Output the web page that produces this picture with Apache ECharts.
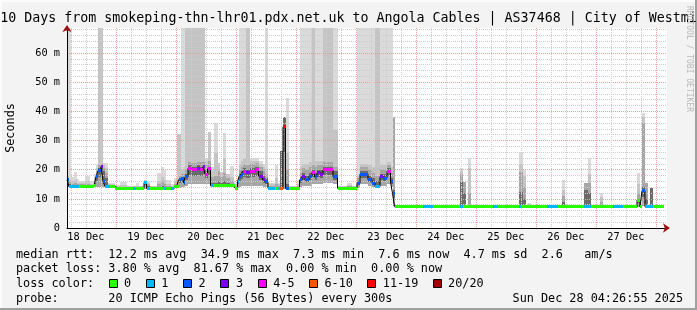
<!DOCTYPE html>
<html>
<head>
<meta charset="utf-8">
<script src="https://cdn.jsdelivr.net/npm/echarts@6.0.0/dist/echarts.min.js"></script>
<style>
html,body{margin:0;padding:0;background:#f3f3f3;}
#chart{width:697px;height:310px;}
</style>
</head>
<body>
<div id="chart"></div>
<script>
// ---- DATA (time = hours since 18 Dec 00:00; each value holds until the next start) ----
const segStart = [
  4.45, 5.25, 5.85, 7.05, 8.45, 9.25, 11.65, 13.65, 15.25, 16.05, 16.85, 18.05, 18.85, 19.65, 20.85, 21.65, 23.45,
  25.65, 28.45, 30.85, 32.05, 33.25, 35.25, 36.25, 37.65, 40.45, 42.05, 43.25, 44.05, 46.05, 47.25,
  48.25, 49.05, 50.05, 51.05, 51.65, 52.85, 54.45, 56.45, 57.65, 58.85, 59.65, 60.65, 61.85, 63.05, 64.85, 65.45, 66.85, 67.85, 69.65, 71.05, 71.65,
  72.65, 73.25, 74.05, 74.85, 75.85, 77.45, 79.65, 81.05, 82.65, 83.65, 84.85, 87.65, 88.85, 89.65, 90.85, 91.85, 93.05,
  96.45, 97.45, 98.45, 99.65, 101.25, 102.45, 103.45, 104.45, 105.65, 106.85, 108.85, 110.85, 112.65, 116.45, 118.45,
  120.45, 121.65, 124.85, 126.45, 127.65, 129.65, 130.85, 132.45, 133.85, 134.65, 135.45,
  146.85, 150.85, 161.45, 162.85, 163.85, 164.85, 165.85, 174.85, 176.85, 185.25, 186.05, 186.85, 187.85, 188.85, 189.85, 196.45, 200.85, 202.45, 203.65, 211.05, 212.85, 213.85, 217.65, 218.85, 222.85, 226.85, 232.45, 233.65, 234.45, 235.65, 236.85, 237.65, 238.85
];
const segEnd = 243.05;
const median = [
  16.5, 14.2, 14.2, 14.2, 14.2, 14.2, 14.2, 14.2, 14.5, 17.6, 19.6, 21.0, 16.1, 14.2, 14.2, 14.2, 13.6,
  13.6, 13.6, 13.6, 13.6, 13.6, 15.5, 13.6, 13.6, 13.6, 13.6, 13.6, 13.6, 13.6, 14.2,
  14.2, 16.5, 17.0, 15.5, 17.5, 20.5, 19.9, 20.5, 20.0, 21.0, 18.5, 20.3, 14.5, 14.5, 14.5, 14.5, 14.5, 14.5, 14.5, 14.5, 13.7,
  15.9, 17.6, 18.5, 19.5, 19.0, 19.5, 20.0, 17.8, 16.5, 15.8, 13.6, 13.6, 13.6, 13.6, 34.7, 13.6, 13.6,
  13.7, 16.5, 17.8, 16.5, 17.8, 19.2, 17.5, 19.0, 18.5, 19.9, 20.0, 17.6, 13.6, 13.6, 13.6,
  15.4, 18.5, 16.5, 15.4, 14.2, 17.6, 17.1, 19.5, 15.8, 11.9, 7.3,
  7.5, 7.3, 7.3, 7.3, 7.3, 7.3, 7.3, 7.3, 7.3, 7.3, 7.3, 7.3, 7.3, 7.3, 7.3, 7.3, 7.3, 7.3, 7.3, 7.3, 7.3, 7.3, 7.3, 7.3, 7.3, 7.3, 9.6, 7.3, 12.8, 7.3, 7.3, 7.3, 7.3
];
const lossIdx = [
  2,1,1,1,1,0,0,0,0,2,2,3,2,1,1,0,0,
  0,0,1,0,0,1,1,0,0,0,1,0,1,0,
  0,2,2,2,2,4,4,3,4,3,4,4,1,0,0,0,0,0,0,0,0,
  1,2,2,4,3,4,4,3,3,2,1,0,1,5,6,2,0,
  0,2,3,2,2,4,2,3,3,4,4,2,0,0,0,
  2,2,2,2,1,3,2,4,2,2,0,
  1,0,1,0,0,0,0,1,0,1,0,0,0,0,0,1,0,0,0,1,1,0,0,0,1,0,0,0,2,1,1,1,0
];
const smokeMin = [
  14.0, 13.8, 13.8, 13.8, 13.8, 13.8, 13.8, 13.8, 13.9, 14.0, 14.0, 14.0, 14.0, 13.8, 13.8, 13.8, 13.3,
  13.3, 13.3, 13.3, 13.3, 13.3, 13.3, 13.3, 13.3, 13.3, 13.3, 13.3, 13.3, 13.3, 13.8,
  13.8, 13.8, 14.0, 14.0, 14.5, 15.0, 15.0, 15.0, 15.0, 15.0, 15.0, 15.0, 14.0, 14.0, 14.0, 14.0, 14.0, 14.0, 14.0, 14.0, 13.5,
  13.7, 14.0, 14.5, 14.5, 14.5, 14.5, 14.5, 14.5, 14.2, 14.0, 13.3, 13.3, 13.3, 13.3, 13.5, 13.3, 13.3,
  13.4, 14.0, 14.5, 14.5, 14.5, 15.0, 15.0, 15.0, 15.0, 15.5, 15.5, 15.0, 13.3, 13.3, 13.3,
  13.8, 15.0, 14.5, 14.2, 13.8, 14.5, 14.5, 15.0, 14.0, 7.5, 7.1,
  7.2, 7.1, 7.1, 7.1, 7.1, 7.1, 7.1, 7.1, 7.1, 7.1, 7.1, 7.1, 7.1, 7.1, 7.1, 7.1, 7.1, 7.1, 7.1, 7.1, 7.1, 7.1, 7.1, 7.1, 7.1, 7.1, 7.1, 7.1, 7.5, 7.1, 7.1, 7.1, 7.1
];
const smokeDark = [
  16.8, 15.0, 14.7, 14.7, 14.6, 14.6, 14.6, 14.5, 15.5, 18.0, 20.5, 21.3, 19.5, 17.0, 14.5, 14.5, 13.9,
  13.9, 13.9, 13.9, 13.9, 13.9, 15.9, 14.5, 13.9, 14.2, 14.5, 14.2, 13.9, 13.9, 14.6,
  14.8, 17.0, 17.5, 17.0, 18.5, 21.5, 21.0, 21.5, 21.0, 21.5, 20.0, 21.0, 15.5, 15.5, 16.0, 15.5, 16.0, 15.5, 15.0, 14.8, 14.0,
  16.2, 18.5, 19.5, 20.5, 20.0, 20.5, 21.0, 19.5, 18.0, 17.0, 14.0, 14.0, 14.0, 26.4, 38.2, 15.0, 13.9,
  14.0, 17.5, 19.0, 18.0, 19.0, 20.0, 19.0, 20.0, 20.0, 21.0, 21.0, 19.5, 13.9, 14.0, 13.9,
  16.0, 19.5, 18.0, 17.0, 16.0, 18.5, 18.5, 20.5, 17.0, 13.0, 7.5,
  7.6, 7.5, 15.9, 12.0, 7.5, 8.0, 7.5, 7.5, 7.5, 12.4, 12.4, 10.0, 7.5, 7.5, 7.5, 7.5, 7.5, 9.0, 7.5, 13.0, 12.0, 7.5, 8.0, 7.5, 7.5, 7.5, 10.0, 7.5, 14.0, 10.0, 7.5, 13.6, 7.5
];
const smokeMid = [
  17.3, 15.8, 15.2, 15.3, 15.0, 15.0, 15.2, 14.8, 16.5, 19.5, 21.5, 22.0, 20.5, 19.0, 14.8, 14.8, 14.2,
  14.2, 14.1, 14.1, 14.2, 14.1, 16.1, 15.2, 14.1, 15.0, 16.0, 15.0, 14.3, 14.1, 15.0,
  16.0, 18.0, 18.5, 18.5, 20.0, 22.5, 22.3, 22.5, 22.5, 22.5, 21.5, 23.0, 17.5, 18.0, 19.5, 17.5, 19.0, 17.0, 16.0, 15.2, 14.5,
  16.8, 20.0, 21.0, 22.0, 21.5, 22.0, 22.3, 21.0, 19.5, 18.5, 14.5, 15.0, 14.5, 26.4, 38.2, 20.0, 14.1,
  14.5, 19.0, 20.5, 20.0, 21.0, 21.5, 21.0, 21.5, 21.5, 22.5, 22.5, 21.0, 14.1, 14.4, 14.1,
  17.0, 21.0, 20.0, 19.0, 18.0, 20.0, 20.0, 21.5, 19.0, 38.2, 7.6,
  7.7, 7.6, 18.5, 15.9, 7.6, 12.0, 7.6, 7.6, 7.6, 19.3, 19.3, 14.0, 7.6, 7.8, 7.6, 7.6, 7.6, 11.0, 7.6, 15.3, 15.5, 7.6, 9.0, 7.6, 7.6, 7.6, 12.0, 7.6, 36.0, 15.3, 7.6, 13.6, 7.6
];
const smokeLight = [
  17.8, 16.5, 16.0, 16.5, 15.5, 15.3, 16.0, 15.2, 17.5, 20.5, 68.6, 68.6, 21.5, 20.5, 15.2, 15.2, 14.4,
  14.8, 14.3, 14.3, 14.5, 14.3, 16.3, 15.6, 14.3, 16.2, 17.6, 16.5, 15.0, 14.5, 16.0,
  32.2, 32.2, 20.0, 21.0, 68.6, 68.6, 68.6, 68.6, 68.6, 68.6, 23.0, 33.0, 19.5, 25.7, 22.2, 19.2, 24.0, 18.6, 17.5, 15.5, 15.0,
  17.5, 22.0, 23.0, 23.5, 68.6, 23.0, 23.0, 22.0, 21.0, 20.0, 15.0, 17.0, 15.0, 26.4, 38.2, 25.7, 14.3,
  15.0, 21.0, 22.0, 22.0, 22.5, 68.6, 23.0, 23.0, 23.0, 68.6, 68.6, 33.6, 14.3, 14.8, 14.3,
  18.0, 22.0, 21.5, 21.0, 68.6, 21.5, 21.5, 22.5, 21.0, 38.2, 7.7,
  7.8, 7.7, 19.5, 15.9, 7.7, 20.5, 7.7, 7.7, 7.7, 22.0, 22.0, 18.0, 7.7, 8.2, 7.7, 7.7, 7.7, 13.0, 7.7, 15.3, 18.5, 7.7, 10.5, 7.7, 7.7, 7.7, 15.0, 7.7, 38.0, 15.3, 7.7, 13.6, 7.7
];
const smokeMax = [
  68.6, 68.6, 17.5, 19.2, 16.8, 16.0, 17.8, 16.0, 18.5, 21.5, 68.6, 68.6, 22.4, 22.4, 15.6, 15.6, 14.6,
  15.9, 14.5, 14.5, 15.3, 14.5, 16.5, 16.0, 14.5, 18.7, 21.0, 19.9, 16.5, 15.0, 17.0,
  32.2, 32.2, 68.6, 68.6, 68.6, 68.6, 68.6, 68.6, 68.6, 68.6, 24.0, 33.0, 21.0, 35.9, 22.2, 19.2, 32.7, 18.6, 21.2, 16.0, 15.5,
  18.0, 68.6, 68.6, 68.6, 68.6, 24.0, 24.0, 23.0, 22.0, 68.6, 15.5, 21.6, 15.5, 26.4, 38.2, 44.7, 14.5,
  16.0, 68.6, 68.6, 68.6, 68.6, 68.6, 68.6, 68.6, 68.6, 68.6, 68.6, 68.6, 14.5, 15.3, 14.5,
  68.6, 68.6, 68.6, 68.6, 68.6, 68.6, 68.6, 68.6, 68.6, 38.2, 7.8,
  7.9, 7.8, 20.5, 15.9, 7.8, 23.9, 7.8, 7.8, 7.8, 26.2, 26.2, 19.8, 7.8, 8.7, 7.8, 7.8, 7.8, 16.5, 7.8, 15.3, 23.9, 7.8, 11.9, 7.8, 7.8, 7.8, 18.7, 7.8, 39.5, 15.3, 7.8, 13.6, 7.8
];

const dayLabels = ['18 Dec','19 Dec','20 Dec','21 Dec','22 Dec','23 Dec','24 Dec','25 Dec','26 Dec','27 Dec'];
const yTickValues = [0, 10, 20, 30, 40, 50, 60];
const lossLabels = ['0','1','2','3','4-5','6-10','11-19','20/20'];
const lossColors = ['#26ff00','#00b8ff','#0059ff','#7e00ff','#ff00ff','#ff5500','#ff0000','#a10000'];
const titleText = '10 Days from smokeping-thn-lhr01.pdx.net.uk to Angola Cables | AS37468 | City of Westmi';
const rttStats = ['12.2 ms avg','34.9 ms max','7.3 ms min','7.6 ms now','4.7 ms sd','2.6   am/s'];
const lossStats = ['3.80 % avg','81.67 % max','0.00 % min','0.00 % now'];
const probeText = '20 ICMP Echo Pings (56 Bytes) every 300s';
const dateText = 'Sun Dec 28 04:26:55 2025';

// ---- CHART ----
const X_MIN = 4.45, X_MAX = 244.45, Y_MAX = 68.6;
const MONO = '"DejaVu Sans Mono", monospace';
const SMOKE_COLORS = ['#dadada', '#c4c4c4', '#a6a6a6', '#6a6a6a'];

const n = segStart.length;
const smokeData = segStart.map((t, i) => [t, i + 1 < n ? segStart[i + 1] : segEnd,
  smokeMin[i], smokeDark[i], smokeMid[i], smokeLight[i], smokeMax[i], median[i]]);
const medData = segStart.map((t, i) => [t, i + 1 < n ? segStart[i + 1] : segEnd, median[i], lossIdx[i]]);
const stepData = segStart.map((t, i) => [t, median[i]]).concat([[segEnd, median[n - 1]]]);

const labelTimes = dayLabels.map((d, i) => 12 + 24 * i);
const majorX = [], minorX = [];
for (let h = 6; h <= 246; h += 6) { if (h % 24 === 0) majorX.push(h); else minorX.push(h); }
const majorY = [10, 20, 30, 40, 50, 60];
const minorY = [];
for (let v = 2; v < Y_MAX; v += 2) { if (v % 10 !== 0) minorY.push(v); }

const RED_GRID = '#f19a9a';
const GRAY_GRID = '#cccccc';

function gridAxis(vals, color, isX) {
  return {
    type: 'value', min: isX ? X_MIN : 0, max: isX ? X_MAX : Y_MAX, z: 2,
    position: isX ? 'bottom' : 'left',
    axisLine: { show: false }, axisLabel: { show: false },
    axisTick: { show: false, customValues: vals },
    splitLine: { show: true, lineStyle: { color: color, width: 1, type: [1, 1] } }
  };
}
function arrowAxis(isX) {
  return {
    type: 'value', min: isX ? X_MIN : 0, max: isX ? X_MAX : Y_MAX, z: 6,
    position: isX ? 'bottom' : 'left',
    axisLine: { show: true, onZero: false, symbol: ['none', 'arrow'], symbolSize: [7, 7], symbolOffset: [0, 3],
      lineStyle: { color: '#9a1010', width: 0 } },
    axisTick: { show: false }, axisLabel: { show: false }, splitLine: { show: false }
  };
}

const legendFont = '11.8px ' + MONO;
const rowY = [254.5, 269, 284, 298.5];
const el = [];
el.push({ type: 'rect', silent: true, shape: { x: 0, y: 308, width: 697, height: 2 }, style: { fill: '#a0a0a0' } });
el.push({ type: 'rect', silent: true, shape: { x: 695, y: 0, width: 2, height: 310 }, style: { fill: '#a0a0a0' } });
el.push({ type: 'rect', silent: true, shape: { x: 0, y: 0, width: 695, height: 2 }, style: { fill: '#fcfcfc' } });
el.push({ type: 'rect', silent: true, shape: { x: 0, y: 0, width: 2, height: 308 }, style: { fill: '#fcfcfc' } });
el.push({ type: 'text', x: 348.5, y: 18.5, style: { text: titleText, font: '13.3px ' + MONO, fill: '#000', align: 'center', verticalAlign: 'middle' } });
el.push({ type: 'text', x: 11, y: 128, rotation: Math.PI / 2, style: { text: 'Seconds', font: legendFont, fill: '#000', align: 'center', verticalAlign: 'middle' } });
el.push({ type: 'text', x: 689, y: 59, rotation: -Math.PI / 2, style: { text: 'RRDTOOL / TOBI OETIKER', font: '8px ' + MONO, fill: '#b8b8b8', align: 'center', verticalAlign: 'middle' } });
el.push({ type: 'text', x: 16, y: rowY[0], style: { text: 'median rtt:  ' + rttStats.join('  '), font: legendFont, fill: '#000', align: 'left', verticalAlign: 'middle' } });
el.push({ type: 'text', x: 16, y: rowY[1], style: { text: 'packet loss: ' + lossStats.join('  '), font: legendFont, fill: '#000', align: 'left', verticalAlign: 'middle' } });
el.push({ type: 'text', x: 16, y: rowY[2], style: { text: 'loss color:', font: legendFont, fill: '#000', align: 'left', verticalAlign: 'middle' } });
let sx = 108.5;
lossLabels.forEach((lab, i) => {
  el.push({ type: 'rect', shape: { x: Math.round(sx) + 0.5, y: rowY[2] - 4.5, width: 8, height: 8 }, style: { fill: lossColors[i], stroke: '#000', lineWidth: 1 } });
  el.push({ type: 'text', x: sx + 15.5, y: rowY[2], style: { text: lab, font: legendFont, fill: '#000', align: 'left', verticalAlign: 'middle' } });
  sx += 30.3 + 7.0 * lab.length;
});
el.push({ type: 'text', x: 16, y: rowY[3], style: { text: 'probe:       ' + probeText, font: legendFont, fill: '#000', align: 'left', verticalAlign: 'middle' } });
el.push({ type: 'text', x: 683, y: rowY[3], style: { text: dateText, font: legendFont, fill: '#000', align: 'right', verticalAlign: 'middle' } });

const option = {
  animation: false,
  backgroundColor: '#f3f3f3',
  grid: { left: 67, right: 30, top: 28, bottom: 82, show: true, backgroundColor: '#ffffff', borderWidth: 0, containLabel: false, outerBoundsMode: 'none' },
  xAxis: [
    { type: 'value', min: X_MIN, max: X_MAX, z: 5, position: 'bottom',
      axisLine: { show: true, onZero: false, lineStyle: { color: '#000', width: 1 } },
      axisTick: { show: false, customValues: labelTimes },
      axisLabel: { customValues: labelTimes, margin: 4, color: '#000', fontFamily: MONO, fontSize: 10.3,
        formatter: v => dayLabels[Math.round((v - 12) / 24)] },
      splitLine: { show: false } },
    gridAxis(majorX, RED_GRID, true),
    gridAxis(minorX, GRAY_GRID, true),
    arrowAxis(true)
  ],
  yAxis: [
    { type: 'value', min: 0, max: Y_MAX, z: 5, position: 'left',
      axisLine: { show: true, onZero: false, lineStyle: { color: '#000', width: 1 } },
      axisTick: { show: false, customValues: yTickValues },
      axisLabel: { customValues: yTickValues, margin: 7, color: '#000', fontFamily: MONO, fontSize: 10.3,
        formatter: v => (v === 0 ? '0' : v + ' m') },
      splitLine: { show: false } },
    gridAxis(majorY, RED_GRID, false),
    gridAxis(minorY, GRAY_GRID, false),
    arrowAxis(false)
  ],
  graphic: { elements: el },
  series: [
    { type: 'custom', name: 'smoke', z: 1, silent: true, data: smokeData,
      encode: { x: [0, 1], y: [2, 3, 4, 5, 6] },
      renderItem: function (params, api) {
        const t0 = api.value(0), t1 = api.value(1), lo = api.value(2), med = api.value(7);
        const kids = [];
        const tops = [6, 5, 4, 3];
        for (let j = 0; j < 4; j++) {
          const hi = api.value(tops[j]);
          // darkest band hugs the median; lighter bands reach down to the lowest ping
          const base = j === 3 ? Math.max(lo, Math.min(med, hi) - 0.4 * (Math.min(med, hi) - lo)) : lo;
          if (!(hi > base)) continue;
          const a = api.coord([t0, hi]);
          const b = api.coord([t1, base]);
          const x0 = Math.round(a[0]), x1 = Math.round(b[0]);
          const y0 = Math.round(a[1]), y1 = Math.round(b[1]);
          kids.push({ type: 'rect', shape: { x: x0, y: y0, width: x1 - x0, height: Math.max(1, y1 - y0) }, style: { fill: SMOKE_COLORS[j] } });
        }
        return { type: 'group', children: kids };
      } },
    { type: 'line', name: 'median step', z: 3, silent: true, step: 'end', data: stepData,
      showSymbol: false, symbol: 'none', lineStyle: { color: '#000', width: 1 } },
    { type: 'custom', name: 'median', z: 4, silent: true, data: medData,
      encode: { x: [0, 1], y: 2 },
      renderItem: function (params, api) {
        const a = api.coord([api.value(0), api.value(2)]);
        const b = api.coord([api.value(1), api.value(2)]);
        const x0 = Math.round(a[0]), x1 = Math.round(b[0]);
        return { type: 'rect', shape: { x: x0, y: Math.round(a[1] - 1.5), width: Math.max(1, x1 - x0), height: 3 },
          style: { fill: lossColors[api.value(3)] } };
      } }
  ]
};

const chart = echarts.init(document.getElementById('chart'), null, { renderer: 'canvas' });
chart.setOption(option);
</script>
</body>
</html>
